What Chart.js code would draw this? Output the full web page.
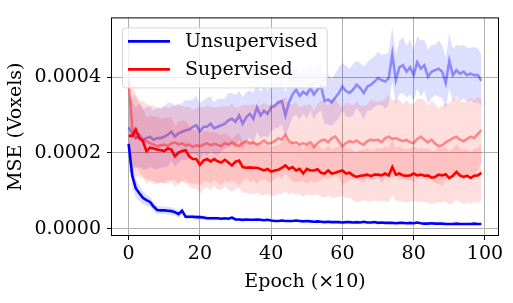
<!DOCTYPE html>
<html lang="en">
<head>
  <meta charset="UTF-8" />
  <title>MSE per epoch</title>
  <script src="https://cdn.jsdelivr.net/npm/chart.js"></script>
  <style>
    body { margin: 0; background: #fff; }
    #wrap { width: 513px; height: 303px; }
  </style>
</head>
<body>
  <div id="wrap"><canvas id="mseChart" width="513" height="303"></canvas></div>

  <script>
    // mean curves and spreads, one value per epoch (x10)
    const unsupTrain = [
      2.24e-4,1.41e-4,1.07e-4,0.94e-4,0.82e-4,0.76e-4,0.71e-4,0.59e-4,0.50e-4,0.49e-4,
      0.49e-4,0.48e-4,0.47e-4,0.44e-4,0.39e-4,0.48e-4,0.32e-4,0.32e-4,0.32e-4,0.31e-4,
      0.31e-4,0.30e-4,0.28e-4,0.28e-4,0.28e-4,0.28e-4,0.27e-4,0.28e-4,0.27e-4,0.30e-4,
      0.25e-4,0.25e-4,0.24e-4,0.25e-4,0.24e-4,0.24e-4,0.25e-4,0.24e-4,0.23e-4,0.24e-4,
      0.22e-4,0.21e-4,0.21e-4,0.22e-4,0.21e-4,0.21e-4,0.21e-4,0.22e-4,0.21e-4,0.20e-4,
      0.21e-4,0.20e-4,0.19e-4,0.20e-4,0.19e-4,0.18e-4,0.19e-4,0.18e-4,0.18e-4,0.18e-4,
      0.17e-4,0.18e-4,0.18e-4,0.17e-4,0.18e-4,0.17e-4,0.19e-4,0.17e-4,0.17e-4,0.18e-4,
      0.16e-4,0.17e-4,0.16e-4,0.16e-4,0.16e-4,0.15e-4,0.16e-4,0.16e-4,0.15e-4,0.16e-4,
      0.15e-4,0.17e-4,0.15e-4,0.14e-4,0.14e-4,0.15e-4,0.14e-4,0.14e-4,0.14e-4,0.13e-4,
      0.13e-4,0.13e-4,0.14e-4,0.13e-4,0.13e-4,0.13e-4,0.13e-4,0.14e-4,0.13e-4,0.13e-4
    ];
    const unsupTrainSd = [
      0.25e-4,0.30e-4,0.25e-4,0.20e-4,0.17e-4,0.15e-4,0.14e-4,0.12e-4,0.11e-4,0.10e-4,
      0.10e-4,0.10e-4,0.10e-4,0.09e-4,0.09e-4,0.10e-4,0.06e-4,0.06e-4,0.06e-4,0.06e-4,
      0.06e-4,0.05e-4,0.05e-4,0.05e-4,0.05e-4,0.04e-4,0.04e-4,0.04e-4,0.04e-4,0.05e-4,
      0.04e-4,0.03e-4,0.03e-4,0.03e-4,0.03e-4,0.03e-4,0.03e-4,0.03e-4,0.03e-4,0.03e-4,
      0.03e-4,0.03e-4,0.02e-4,0.03e-4,0.02e-4,0.03e-4,0.02e-4,0.03e-4,0.02e-4,0.02e-4,
      0.03e-4,0.02e-4,0.02e-4,0.03e-4,0.02e-4,0.02e-4,0.03e-4,0.02e-4,0.02e-4,0.02e-4,
      0.02e-4,0.03e-4,0.02e-4,0.02e-4,0.02e-4,0.02e-4,0.03e-4,0.02e-4,0.02e-4,0.02e-4,
      0.02e-4,0.02e-4,0.02e-4,0.02e-4,0.02e-4,0.02e-4,0.02e-4,0.02e-4,0.02e-4,0.02e-4,
      0.02e-4,0.03e-4,0.02e-4,0.02e-4,0.02e-4,0.02e-4,0.02e-4,0.02e-4,0.02e-4,0.02e-4,
      0.02e-4,0.02e-4,0.02e-4,0.02e-4,0.02e-4,0.02e-4,0.02e-4,0.02e-4,0.02e-4,0.02e-4
    ];
    const unsupVal = [
      2.67e-4,2.52e-4,2.39e-4,2.48e-4,2.35e-4,2.39e-4,2.43e-4,2.35e-4,2.39e-4,2.39e-4,
      2.43e-4,2.48e-4,2.56e-4,2.43e-4,2.52e-4,2.56e-4,2.60e-4,2.62e-4,2.69e-4,2.73e-4,
      2.56e-4,2.69e-4,2.69e-4,2.77e-4,2.65e-4,2.69e-4,2.73e-4,2.77e-4,2.86e-4,2.90e-4,
      2.82e-4,2.99e-4,2.77e-4,2.94e-4,3.03e-4,2.90e-4,3.20e-4,2.99e-4,3.11e-4,3.03e-4,
      3.20e-4,3.24e-4,3.33e-4,3.37e-4,2.99e-4,3.33e-4,3.54e-4,3.67e-4,3.50e-4,3.61e-4,
      3.54e-4,3.71e-4,3.54e-4,3.67e-4,3.75e-4,3.37e-4,3.41e-4,3.33e-4,3.46e-4,3.58e-4,
      3.75e-4,3.63e-4,3.58e-4,3.67e-4,3.80e-4,3.71e-4,3.58e-4,3.75e-4,3.80e-4,3.88e-4,
      3.97e-4,3.92e-4,3.88e-4,3.97e-4,4.60e-4,3.92e-4,4.26e-4,4.31e-4,4.14e-4,4.26e-4,
      4.05e-4,4.39e-4,4.22e-4,4.31e-4,4.01e-4,4.14e-4,4.18e-4,4.22e-4,4.14e-4,3.84e-4,
      4.43e-4,4.05e-4,4.18e-4,4.09e-4,4.14e-4,4.05e-4,4.09e-4,4.05e-4,4.05e-4,3.90e-4
    ];
    const unsupValSd = [
      0.90e-4,0.85e-4,0.80e-4,0.85e-4,0.78e-4,0.82e-4,0.80e-4,0.76e-4,0.82e-4,0.78e-4,
      0.80e-4,0.84e-4,0.76e-4,0.80e-4,0.78e-4,0.74e-4,0.80e-4,0.76e-4,0.72e-4,0.78e-4,
      0.74e-4,0.70e-4,0.76e-4,0.72e-4,0.68e-4,0.74e-4,0.70e-4,0.66e-4,0.72e-4,0.68e-4,
      0.70e-4,0.64e-4,0.70e-4,0.66e-4,0.62e-4,0.68e-4,0.64e-4,0.60e-4,0.66e-4,0.62e-4,
      0.64e-4,0.60e-4,0.66e-4,0.62e-4,0.58e-4,0.64e-4,0.60e-4,0.66e-4,0.62e-4,0.58e-4,
      0.64e-4,0.60e-4,0.66e-4,0.62e-4,0.64e-4,0.60e-4,0.66e-4,0.62e-4,0.64e-4,0.68e-4,
      0.62e-4,0.66e-4,0.64e-4,0.68e-4,0.62e-4,0.66e-4,0.70e-4,0.64e-4,0.68e-4,0.66e-4,
      0.70e-4,0.66e-4,0.72e-4,0.68e-4,0.72e-4,0.66e-4,0.70e-4,0.74e-4,0.68e-4,0.72e-4,
      0.66e-4,0.70e-4,0.74e-4,0.68e-4,0.72e-4,0.70e-4,0.66e-4,0.74e-4,0.70e-4,0.68e-4,
      0.72e-4,0.70e-4,0.66e-4,0.74e-4,0.70e-4,0.72e-4,0.68e-4,0.74e-4,0.70e-4,0.68e-4
    ];
    const supTrain = [
      2.45e-4,2.45e-4,2.62e-4,2.39e-4,2.31e-4,2.05e-4,2.14e-4,2.12e-4,2.09e-4,2.07e-4,
      2.05e-4,2.12e-4,2.09e-4,1.91e-4,2.01e-4,2.05e-4,2.07e-4,1.91e-4,1.84e-4,1.84e-4,
      1.69e-4,1.80e-4,1.84e-4,1.78e-4,1.84e-4,1.78e-4,1.75e-4,1.82e-4,1.75e-4,1.67e-4,
      1.77e-4,1.80e-4,1.63e-4,1.61e-4,1.62e-4,1.61e-4,1.61e-4,1.58e-4,1.54e-4,1.58e-4,
      1.51e-4,1.54e-4,1.56e-4,1.61e-4,1.67e-4,1.58e-4,1.63e-4,1.54e-4,1.58e-4,1.46e-4,
      1.58e-4,1.54e-4,1.54e-4,1.57e-4,1.48e-4,1.46e-4,1.54e-4,1.46e-4,1.48e-4,1.51e-4,
      1.54e-4,1.46e-4,1.48e-4,1.41e-4,1.37e-4,1.40e-4,1.41e-4,1.43e-4,1.39e-4,1.43e-4,
      1.43e-4,1.41e-4,1.46e-4,1.41e-4,1.63e-4,1.43e-4,1.46e-4,1.41e-4,1.40e-4,1.41e-4,
      1.46e-4,1.41e-4,1.43e-4,1.40e-4,1.41e-4,1.35e-4,1.37e-4,1.43e-4,1.41e-4,1.44e-4,
      1.34e-4,1.40e-4,1.50e-4,1.41e-4,1.37e-4,1.40e-4,1.34e-4,1.40e-4,1.41e-4,1.48e-4
    ];
    const supTrainSd = [
      0.95e-4,1.00e-4,0.95e-4,0.90e-4,0.90e-4,0.88e-4,0.85e-4,0.85e-4,0.88e-4,0.85e-4,
      0.85e-4,0.82e-4,0.85e-4,0.80e-4,0.82e-4,0.80e-4,0.78e-4,0.80e-4,0.78e-4,0.76e-4,
      0.78e-4,0.75e-4,0.74e-4,0.76e-4,0.72e-4,0.74e-4,0.73e-4,0.70e-4,0.72e-4,0.70e-4,
      0.70e-4,0.72e-4,0.68e-4,0.66e-4,0.70e-4,0.68e-4,0.66e-4,0.68e-4,0.65e-4,0.66e-4,
      0.64e-4,0.66e-4,0.65e-4,0.68e-4,0.70e-4,0.66e-4,0.68e-4,0.64e-4,0.66e-4,0.62e-4,
      0.66e-4,0.65e-4,0.64e-4,0.66e-4,0.63e-4,0.64e-4,0.66e-4,0.64e-4,0.65e-4,0.66e-4,
      0.68e-4,0.64e-4,0.66e-4,0.65e-4,0.66e-4,0.68e-4,0.66e-4,0.70e-4,0.67e-4,0.68e-4,
      0.70e-4,0.68e-4,0.72e-4,0.70e-4,0.74e-4,0.70e-4,0.72e-4,0.70e-4,0.69e-4,0.70e-4,
      0.72e-4,0.70e-4,0.71e-4,0.70e-4,0.72e-4,0.70e-4,0.69e-4,0.73e-4,0.70e-4,0.72e-4,
      0.70e-4,0.71e-4,0.74e-4,0.70e-4,0.72e-4,0.70e-4,0.69e-4,0.70e-4,0.72e-4,0.74e-4
    ];
    const supVal = [
      3.90e-4,2.70e-4,2.42e-4,2.39e-4,2.35e-4,2.31e-4,2.26e-4,2.22e-4,2.18e-4,2.20e-4,
      2.22e-4,2.18e-4,2.25e-4,2.28e-4,2.22e-4,2.26e-4,2.20e-4,2.22e-4,2.16e-4,2.20e-4,
      2.18e-4,2.22e-4,2.26e-4,2.20e-4,2.24e-4,2.22e-4,2.18e-4,2.26e-4,2.22e-4,2.28e-4,
      2.22e-4,2.18e-4,2.26e-4,2.31e-4,2.25e-4,2.28e-4,2.22e-4,2.26e-4,2.33e-4,2.25e-4,
      2.26e-4,2.31e-4,2.39e-4,2.35e-4,2.48e-4,2.31e-4,2.26e-4,2.28e-4,2.22e-4,2.26e-4,
      2.22e-4,2.28e-4,2.16e-4,2.26e-4,2.33e-4,2.35e-4,2.28e-4,2.39e-4,2.43e-4,2.31e-4,
      2.18e-4,2.26e-4,2.31e-4,2.28e-4,2.33e-4,2.26e-4,2.22e-4,2.31e-4,2.35e-4,2.33e-4,
      2.35e-4,2.28e-4,2.39e-4,2.43e-4,2.37e-4,2.39e-4,2.35e-4,2.31e-4,2.35e-4,2.28e-4,
      2.26e-4,2.37e-4,2.43e-4,2.35e-4,2.28e-4,2.35e-4,2.25e-4,2.18e-4,2.20e-4,2.28e-4,
      2.33e-4,2.39e-4,2.43e-4,2.35e-4,2.31e-4,2.37e-4,2.43e-4,2.39e-4,2.50e-4,2.60e-4
    ];
    const supValSd = [
      1.60e-4,1.30e-4,1.05e-4,1.00e-4,1.02e-4,0.98e-4,1.00e-4,1.04e-4,1.00e-4,0.98e-4,
      1.02e-4,1.00e-4,0.96e-4,1.00e-4,1.04e-4,0.98e-4,1.02e-4,1.00e-4,0.97e-4,1.00e-4,
      1.03e-4,0.98e-4,1.00e-4,1.02e-4,0.96e-4,1.00e-4,1.04e-4,0.98e-4,1.00e-4,1.02e-4,
      0.98e-4,1.03e-4,1.00e-4,0.96e-4,1.02e-4,1.00e-4,1.04e-4,0.98e-4,1.01e-4,1.00e-4,
      1.03e-4,0.98e-4,1.00e-4,1.05e-4,1.00e-4,0.97e-4,1.02e-4,1.06e-4,0.98e-4,1.00e-4,
      1.04e-4,1.00e-4,0.96e-4,1.02e-4,1.05e-4,1.00e-4,0.98e-4,1.03e-4,1.00e-4,0.97e-4,
      1.02e-4,1.06e-4,1.00e-4,0.98e-4,1.04e-4,1.00e-4,1.02e-4,0.97e-4,1.05e-4,1.03e-4,
      1.00e-4,1.08e-4,1.04e-4,1.10e-4,1.02e-4,1.00e-4,1.06e-4,0.98e-4,1.04e-4,1.00e-4,
      1.03e-4,1.06e-4,1.00e-4,1.05e-4,0.98e-4,1.02e-4,1.04e-4,1.00e-4,1.06e-4,1.02e-4,
      0.98e-4,1.04e-4,1.06e-4,1.00e-4,1.03e-4,0.98e-4,1.02e-4,1.00e-4,0.96e-4,0.85e-4
    ];
    const xTicks = [0, 20, 40, 60, 80, 100];
    const yTicks = [0, 0.0002, 0.0004];

    const FONT = "'DejaVu Serif', serif";
    const SIZE = 19;
    const epochs = unsupTrain.map((_, i) => i);
    const pts = arr => arr.map((v, i) => ({ x: epochs[i], y: v }));
    const shift = (mean, sd, k) => mean.map((v, i) => v + k * sd[i]);

    function line(label, mean, color, order) {
      return { label, data: pts(mean), borderColor: color, borderWidth: 2.6,
               pointRadius: 0, fill: false, order };
    }
    // fill between mean+sd and mean-sd
    function band(mean, sd, color, order) {
      return [
        { data: pts(shift(mean, sd, 1)), borderColor: 'rgba(0,0,0,0)', borderWidth: 0,
          pointRadius: 0, fill: '+1', backgroundColor: color, order },
        { data: pts(shift(mean, sd, -1)), borderColor: 'rgba(0,0,0,0)', borderWidth: 0,
          pointRadius: 0, fill: false, order }
      ];
    }

    // legend inside the axes, top-left, like matplotlib
    const insideLegend = {
      id: 'insideLegend',
      afterDraw(chart) {
        const { ctx, chartArea } = chart;
        const items = chart.data.datasets.filter(d => d.label);
        ctx.save();
        ctx.font = SIZE + 'px ' + FONT;
        const textW = Math.max(...items.map(d => ctx.measureText(d.label).width));
        const x = chartArea.left + 11, y = chartArea.top + 10;
        const w = 63 + textW + 9, h = 60;
        ctx.beginPath();
        ctx.roundRect(x + 0.5, y + 0.5, w, h, 3);
        ctx.fillStyle = 'rgba(255,255,255,0.8)';
        ctx.fill();
        ctx.strokeStyle = '#d6d6d6';
        ctx.lineWidth = 1;
        ctx.stroke();
        items.forEach((d, i) => {
          const cy = y + 14 + i * 28;
          ctx.beginPath();
          ctx.moveTo(x + 6, cy);
          ctx.lineTo(x + 48, cy);
          ctx.strokeStyle = d.borderColor;
          ctx.lineWidth = 2.6;
          ctx.stroke();
          ctx.fillStyle = '#000';
          ctx.textBaseline = 'middle';
          ctx.fillText(d.label, x + 63, cy + 1);
        });
        ctx.restore();
      }
    };

    const frame = {
      id: 'frame',
      afterDatasetsDraw(chart) {
        const { ctx, chartArea: a } = chart;
        ctx.save();
        ctx.strokeStyle = '#000';
        ctx.lineWidth = 1;
        ctx.strokeRect(a.left + 0.5, a.top + 0.5, a.right - a.left - 1, a.bottom - a.top - 1);
        ctx.restore();
      }
    };

    new Chart(document.getElementById('mseChart'), {
      type: 'line',
      data: {
        datasets: [
          line('Unsupervised', unsupTrain, 'rgb(0,0,255)', 0),
          line('Supervised', supTrain, 'rgb(255,0,0)', 1),
          ...band(supTrain, supTrainSd, 'rgba(255,0,0,0.13)', 2),
          line(null, supVal, 'rgba(255,0,0,0.4)', 3),
          ...band(supVal, supValSd, 'rgba(255,0,0,0.13)', 4),
          ...band(unsupTrain, unsupTrainSd, 'rgba(0,0,255,0.13)', 5),
          line(null, unsupVal, 'rgba(0,0,255,0.38)', 6),
          ...band(unsupVal, unsupValSd, 'rgba(0,0,255,0.13)', 7)
        ]
      },
      options: {
        responsive: false,
        animation: false,
        devicePixelRatio: 1,
        layout: { padding: { top: 10, right: 14, left: 0, bottom: 0 } },
        plugins: { legend: { display: false }, tooltip: { enabled: false } },
        scales: {
          x: {
            type: 'linear', min: -4.95, max: 103.95,
            afterBuildTicks: s => { s.ticks = xTicks.map(v => ({ value: v })); },
            afterFit: s => { s.height = 67; },
            grid: { color: '#b0b0b0', lineWidth: 1, tickColor: '#000', tickLength: 4 },
            border: { display: false },
            ticks: { color: '#000', font: { family: FONT, size: SIZE }, padding: 3, maxRotation: 0,
                     callback: v => String(v) },
            title: { display: true, text: 'Epoch (×10)', color: '#000',
                     font: { family: FONT, size: SIZE }, padding: { top: 0, bottom: 10 } }
          },
          y: {
            type: 'linear', min: -0.0000186, max: 0.000557,
            afterBuildTicks: s => { s.ticks = yTicks.map(v => ({ value: v })); },
            afterFit: s => { s.width = 111; },
            grid: { color: '#b0b0b0', lineWidth: 1, tickColor: '#000', tickLength: 4 },
            border: { display: false },
            ticks: { color: '#000', font: { family: FONT, size: SIZE }, padding: 6,
                     callback: v => v.toFixed(4) },
            title: { display: true, text: 'MSE (Voxels)', color: '#000',
                     font: { family: FONT, size: SIZE }, padding: { top: 5, bottom: 0 } }
          }
        }
      },
      plugins: [insideLegend, frame]
    });
  </script>
</body>
</html>
